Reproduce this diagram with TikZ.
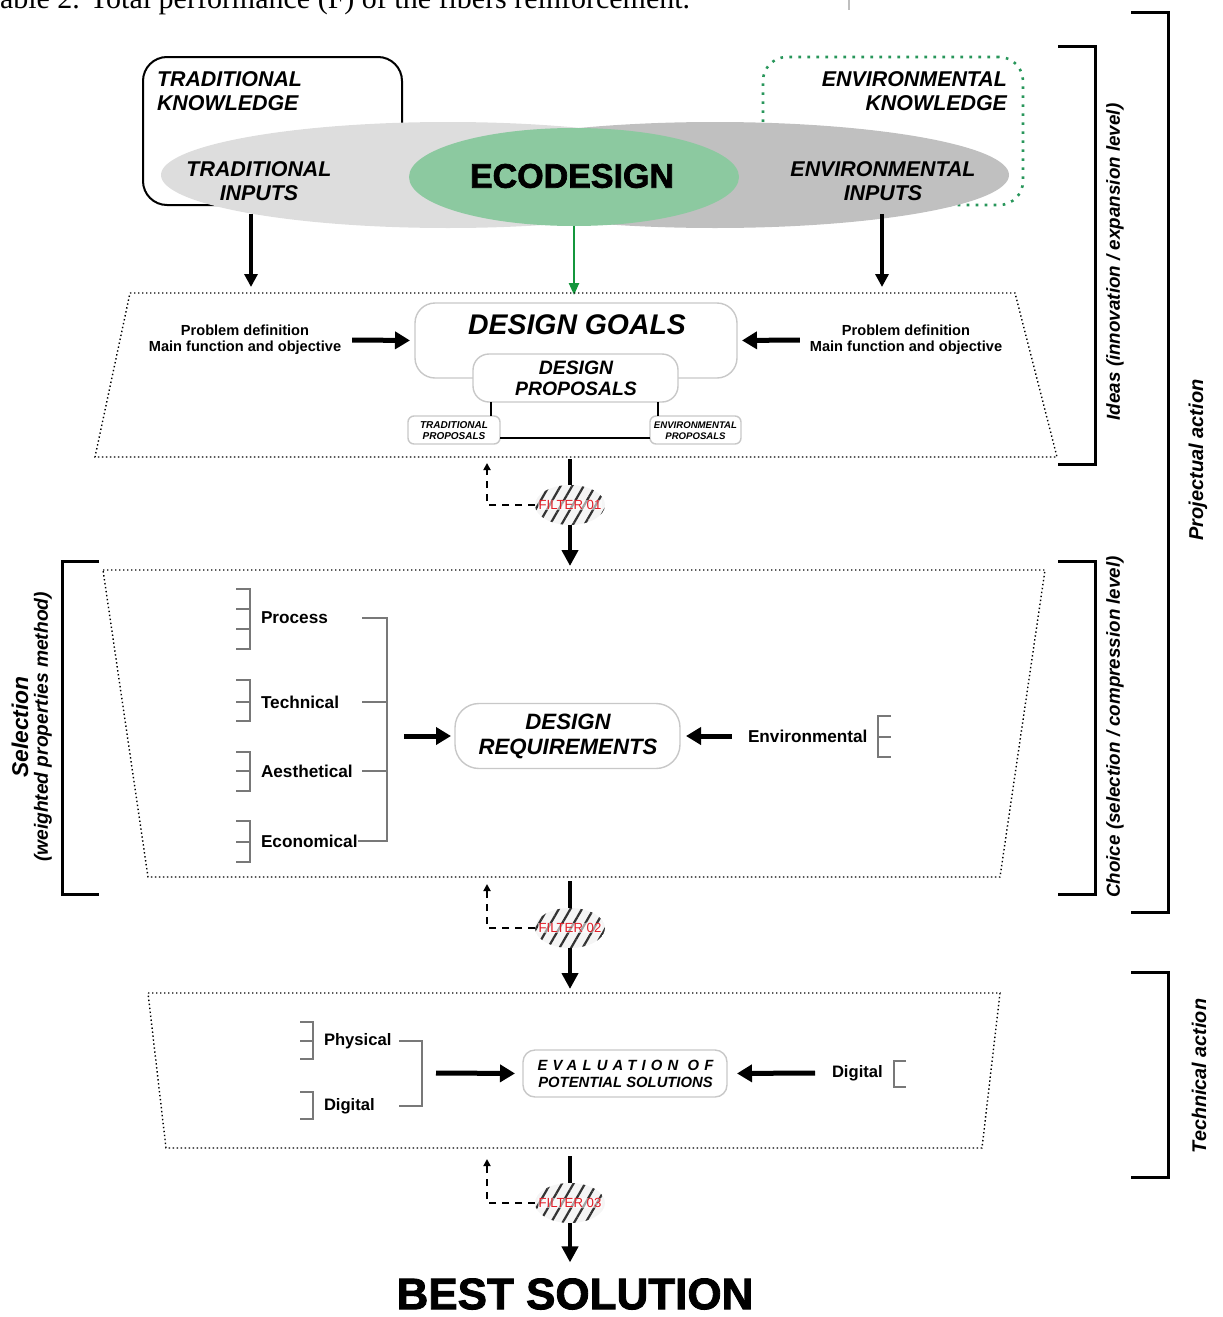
\documentclass[tikz,border=0pt]{standalone}
\usepackage{fontspec}
\setmainfont{Liberation Sans}
\newfontfamily\capfont{Liberation Serif}
\newfontfamily\heavyfont[FakeBold=2]{Liberation Sans Bold}
\usetikzlibrary{shapes.geometric,arrows.meta,patterns.meta}
\newcommand\setfs[2]{\fontsize{#1}{#2}\selectfont}
\definecolor{lgray}{RGB}{221,221,221}
\definecolor{dgray}{RGB}{192,192,192}
\definecolor{ecogreen}{RGB}{140,201,160}
\definecolor{arrgreen}{RGB}{20,150,60}
\definecolor{envgreen}{RGB}{40,150,90}
\definecolor{boxgray}{RGB}{200,200,200}
\definecolor{brgray}{RGB}{120,120,120}
\definecolor{filtred}{RGB}{225,30,40}
\begin{document}
\begin{tikzpicture}[x=0.5pt,y=-0.5pt,
  every node/.style={inner sep=0pt, outer sep=0pt},
  rbox/.style={draw=boxgray, line width=0.7pt, fill=white},
  fatarrow/.style={line width=2.5pt, -{Triangle[length=7.5pt,width=8.5pt]}},
  medarrow/.style={line width=1.6pt, -{Triangle[length=6.5pt,width=6.5pt]}},
  vline/.style={line width=2pt},
  downarrow/.style={line width=2pt, -{Triangle[length=8pt,width=8pt]}},
  dotline/.style={line width=0.7pt, dash pattern=on 0.7pt off 1.3pt},
  backdash/.style={line width=1.3pt, dash pattern=on 3.5pt off 3pt, -{Triangle[length=3.5pt,width=3.5pt]}},
  filt/.style={ellipse, minimum width=35pt, minimum height=20pt, preaction={fill=gray!8},
    pattern={Lines[angle=60,distance=5pt,line width=1.1pt]}, pattern color=black!80},
  filttext/.style={text=filtred, font=\setfs{6.6}{7}, fill=white, fill opacity=0.55, text opacity=1, inner sep=0.4pt},
  brk/.style={draw=brgray, line width=0.6pt},
  bigbrk/.style={line width=1.5pt},
  item/.style={font=\bfseries\setfs{8.6}{9}, anchor=west},
  side/.style={font=\bfseries\itshape\setfs{9.4}{10}, rotate=90}
]
\useasboundingbox (0,0) rectangle (1222,1317);

% caption fragment
\node[anchor=base west, font=\capfont\setfs{15}{15}] (cap) at (0,9) {able 2. Total performance (F) of the fibers reinforcement.};
\draw[gray!50, line width=0.6pt] (849,0) -- (849,10);

% knowledge boxes
\node[draw, line width=1pt, rounded corners=12pt, minimum width=129.5pt, minimum height=74pt] (tkbox) at (272.5,131) {};
\node[draw=envgreen, line width=1.3pt, dash pattern=on 1.3pt off 3.2pt, rounded corners=12pt, minimum width=130pt, minimum height=74pt] (ekbox) at (893,131) {};

% ellipses
\node[ellipse, fill=lgray, minimum width=287pt, minimum height=53pt] (trin) at (448,175) {};
\node[ellipse, fill=dgray, minimum width=294pt, minimum height=53pt] (envin) at (715,175) {};
\node[ellipse, fill=ecogreen, minimum width=165pt, minimum height=49pt] (eco) at (574,177) {};

\node[font=\bfseries\itshape\setfs{10.7}{12}, anchor=west, align=left] (tkt) at (157,91) {TRADITIONAL\\KNOWLEDGE};
\node[font=\bfseries\itshape\setfs{10.7}{12}, align=center] (tit) at (259,181) {TRADITIONAL\\INPUTS};
\node[font=\bfseries\itshape\setfs{10.7}{12}, anchor=east, align=right] (ekt) at (1007,91) {ENVIRONMENTAL\\KNOWLEDGE};
\node[font=\bfseries\itshape\setfs{10.7}{12}, align=center] (eit) at (883,181) {ENVIRONMENTAL\\INPUTS};
\node[font=\heavyfont\setfs{17}{17}] (ecot) at (572,176) {ECODESIGN};

% arrows from ellipses
\coordinate (trout) at (251,214);
\coordinate (trtgt) at (251,287);
\coordinate (envout) at (882,214);
\coordinate (envtgt) at (882,287);
\coordinate (ecotgt) at (574,295);
\draw[medarrow] (trout) -- (trtgt);
\draw[medarrow] (envout) -- (envtgt);
\draw[arrgreen, line width=1.2pt, -{Triangle[length=6pt,width=5pt]}] (eco.south) -- (ecotgt);

% trapezoid 1
\coordinate (ta1) at (130,293);
\coordinate (ta2) at (1015,293);
\coordinate (ta3) at (1057,457);
\coordinate (ta4) at (95,457);
\draw[dotline] (ta1) -- (ta2) -- (ta3) -- (ta4) -- cycle;

\node[rbox, rounded corners=10pt, minimum width=161pt, minimum height=37.5pt] (dg) at (576,340.5) {};
\node[font=\bfseries\itshape\setfs{14.2}{15}] (dgt) at (577,325) {DESIGN GOALS};
\node[rbox, rounded corners=8pt, minimum width=102.5pt, minimum height=24pt] (dp) at (575.5,378) {};
\node[font=\bfseries\itshape\setfs{9.7}{10.5}, align=center] (dpt) at (576,378.5) {DESIGN\\PROPOSALS};

\node[rbox, rounded corners=3pt, minimum width=46pt, minimum height=14pt] (tp) at (454,430) {};
\node[font=\bfseries\itshape\setfs{5}{5.5}, align=center] (tpt) at (454,430.5) {TRADITIONAL\\PROPOSALS};
\node[rbox, rounded corners=3pt, minimum width=45.5pt, minimum height=14pt] (ep) at (695.5,430) {};
\node[font=\bfseries\itshape\setfs{4.8}{5.5}, align=center] (ept) at (695.5,430.5) {ENVIRONMENTAL\\PROPOSALS};

\draw[line width=1pt] ([xshift=-4.5pt]tp.north east) -- ([xshift=-4.5pt]tp.north east |- dp.south);
\draw[line width=1pt] ([xshift=4pt]ep.north west) -- ([xshift=4pt]ep.north west |- dp.south);
\draw[line width=1pt] ([yshift=-4pt]tp.east) -- ([yshift=-4pt]ep.west);

\node[font=\bfseries\setfs{7.3}{8}, align=center] (pdl) at (245,340) {Problem definition\\Main function and objective};
\node[font=\bfseries\setfs{7.3}{8}, align=center] (pdr) at (906,340) {Problem definition\\Main function and objective};
\draw[fatarrow, shorten >=2.5pt] ([xshift=5.5pt]pdl.east) -- (dg.west);
\draw[fatarrow, shorten >=2.5pt] ([xshift=-5pt]pdr.west) -- (dg.east);

% filter 1
\node[filt] (f1) at (570,505) {};
\node[filttext] (f1t) at (570,505) {FILTER 01};
\coordinate (t1bot) at (570,459);
\coordinate (t2top) at (570,566);
\coordinate (r1) at (487,463);
\draw[vline] (t1bot) -- (f1.north);
\draw[downarrow] (f1.south) -- (t2top);
\draw[backdash] (f1.west) -| (r1);

% trapezoid 2
\coordinate (tb1) at (103,570);
\coordinate (tb2) at (1045,570);
\coordinate (tb3) at (1000,877);
\coordinate (tb4) at (148,877);
\draw[dotline] (tb1) -- (tb2) -- (tb3) -- (tb4) -- cycle;

\node[item] (proc) at (261,618) {Process};
\node[item] (tech) at (261,702) {Technical};
\node[item] (aest) at (261,771) {Aesthetical};
\node[item] (econ) at (261,841) {Economical};

% small brackets
\draw[brk] (236,589) -- (250,589) -- (250,649) -- (236,649);
\draw[brk] (236,609) -- (250,609);
\draw[brk] (236,629) -- (250,629);
\draw[brk] (236,680) -- (250,680) -- (250,721) -- (236,721);
\draw[brk] (236,702) -- (250,702);
\draw[brk] (236,752) -- (250,752) -- (250,791) -- (236,791);
\draw[brk] (236,771) -- (250,771);
\draw[brk] (236,821) -- (250,821) -- (250,862) -- (236,862);
\draw[brk] (236,842) -- (250,842);

% joining bracket
\coordinate (jp) at (362,618);
\coordinate (jt) at (362,702);
\coordinate (ja) at (362,771);
\coordinate (jx) at (387,702);
\draw[brk, line width=0.8pt] (jp) -- (387,618) -- (387,841) -- (econ.east);
\draw[brk, line width=0.8pt] (jt) -- (jx);
\draw[brk, line width=0.8pt] (ja) -- (387,771);

\node[rbox, rounded corners=12pt, minimum width=112.5pt, minimum height=32.5pt] (dr) at (567.5,736) {};
\node[font=\bfseries\itshape\setfs{11.1}{12.5}, align=center] (drt) at (568,736) {DESIGN\\REQUIREMENTS};
\coordinate (drin) at (404,736);
\draw[fatarrow, shorten >=2pt] (drin) -- (dr.west);

\node[item] (envr) at (748,736) {Environmental};
\draw[fatarrow, shorten >=3pt] ([xshift=-8pt]envr.west) -- (dr.east);
\draw[brk] (891,716) -- (878,716) -- (878,757) -- (891,757);
\draw[brk] (878,737) -- (891,737);

% filter 2
\node[filt] (f2) at (570,928) {};
\node[filttext] (f2t) at (570,928) {FILTER 02};
\coordinate (t2bot) at (570,881);
\coordinate (t3top) at (570,989);
\coordinate (r2) at (487,884);
\draw[vline] (t2bot) -- (f2.north);
\draw[downarrow] (f2.south) -- (t3top);
\draw[backdash] (f2.west) -| (r2);

% trapezoid 3
\coordinate (tc1) at (148,993);
\coordinate (tc2) at (1000,993);
\coordinate (tc3) at (982,1148);
\coordinate (tc4) at (166,1148);
\draw[dotline] (tc1) -- (tc2) -- (tc3) -- (tc4) -- cycle;

\node[font=\bfseries\setfs{8.3}{9}, anchor=west] (phys) at (324,1041) {Physical};
\node[font=\bfseries\setfs{8.3}{9}, anchor=west] (digl) at (324,1106) {Digital};
\draw[brk] (300,1022) -- (313,1022) -- (313,1059) -- (300,1059);
\draw[brk] (300,1041) -- (313,1041);
\draw[brk] (300,1092) -- (313,1092) -- (313,1119) -- (300,1119);
\coordinate (jph) at (399,1041);
\coordinate (jdg) at (399,1106);
\draw[brk, line width=0.8pt] (jph) -- (422,1041) -- (422,1106) -- (jdg);

\node[rbox, rounded corners=6pt, minimum width=102pt, minimum height=23.5pt] (ev) at (625,1073.5) {};
\node[font=\bfseries\itshape\setfs{7.4}{8.5}, align=center] (evt) at (625.5,1074) {{\addfontfeatures{LetterSpace=35}EVALUATION OF}\\POTENTIAL SOLUTIONS};
\coordinate (evin) at (436,1073);
\draw[fatarrow, shorten >=4pt] (evin) -- (ev.west);

\node[font=\bfseries\setfs{8.3}{9}, anchor=west] (digr) at (832,1073) {Digital};
\draw[fatarrow, shorten >=5pt] ([xshift=-8.5pt]digr.west) -- (ev.east);
\draw[brk] (906,1061) -- (894,1061) -- (894,1087) -- (906,1087);

% filter 3
\node[filt] (f3) at (570,1203) {};
\node[filttext] (f3t) at (570,1203) {FILTER 03};
\coordinate (t3bot) at (570,1156);
\coordinate (r3) at (487,1159);
\node[font=\heavyfont\setfs{22}{22}] (best) at (575,1294) {BEST SOLUTION};
\draw[vline] (t3bot) -- (f3.north);
\draw[downarrow, shorten >=8pt] (f3.south) -- (best.north -| f3.south);
\draw[backdash] (f3.west) -| (r3);

% side brackets
\draw[bigbrk] (99,561) -- (62,561) -- (62,894) -- (99,894);
\node[font=\bfseries\itshape\setfs{11.4}{12}, rotate=90] (sel) at (20,727) {Selection};
\node[font=\bfseries\itshape\setfs{9.6}{10}, rotate=90] (wpm) at (43,727) {(weighted properties method)};

\draw[bigbrk] (1058,46) -- (1095,46) -- (1095,464) -- (1058,464);
\node[side] (ideas) at (1115,262) {Ideas (innovation / expansion level)};
\draw[bigbrk] (1058,561) -- (1095,561) -- (1095,894) -- (1058,894);
\node[side] (choice) at (1115,727) {Choice (selection / compression level)};
\draw[bigbrk] (1131,12) -- (1168,12) -- (1168,912) -- (1131,912);
\node[font=\bfseries\itshape\setfs{10}{11}, rotate=90] (proj) at (1198,460) {Projectual action};
\draw[bigbrk] (1131,972) -- (1168,972) -- (1168,1177) -- (1131,1177);
\node[font=\bfseries\itshape\setfs{9.9}{11}, rotate=90] (techa) at (1199,1076) {Technical action};
\end{tikzpicture}
\end{document}
